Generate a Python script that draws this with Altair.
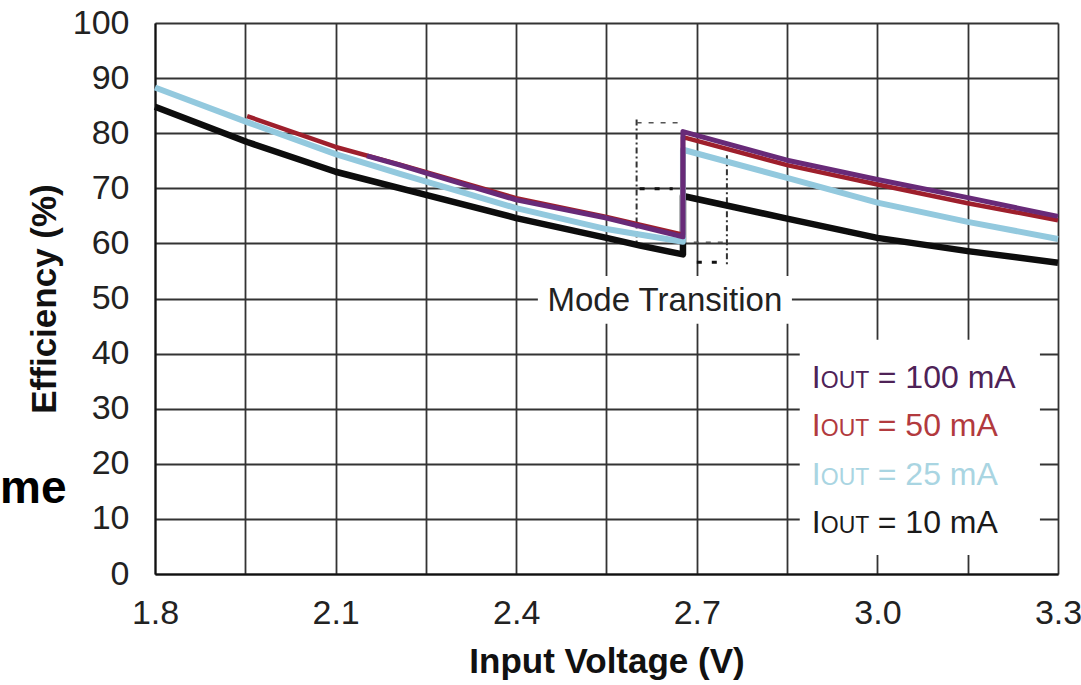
import altair as alt
import pandas as pd

# ---------------- data ----------------
x_ticks = [1.8, 1.95, 2.1, 2.25, 2.4, 2.55, 2.7, 2.85, 3.0, 3.15, 3.3]
y_ticks = [0, 10, 20, 30, 40, 50, 60, 70, 80, 90, 100]

i10_x = [1.8, 1.953, 2.1, 2.25, 2.40, 2.55, 2.606, 2.677, 2.677, 2.85, 3.0, 3.15, 3.3]
i10_y = [84.8, 78.4, 73.0, 68.8, 64.6, 61.0, 59.6, 58.0, 68.6, 64.5, 61.0, 58.6, 56.5]

i25_x = [1.8, 1.953, 2.1, 2.207, 2.40, 2.55, 2.677, 2.677, 2.85, 3.0, 3.15, 3.3]
i25_y = [88.3, 82.0, 76.2, 72.6, 66.4, 62.6, 60.3, 77.0, 71.9, 67.4, 63.9, 60.8]

i50_x = [1.953, 2.1, 2.207, 2.252, 2.40, 2.55, 2.677, 2.677, 2.85, 3.0, 3.15, 3.3]
i50_y = [83.1, 77.5, 74.3, 72.9, 68.2, 64.8, 61.6, 79.3, 74.2, 70.7, 67.3, 64.2]

i100_x = [2.152, 2.207, 2.252, 2.40, 2.55, 2.677, 2.677, 2.85, 3.0, 3.15, 3.3]
i100_y = [75.9, 74.2, 72.7, 67.9, 64.6, 61.2, 80.3, 75.1, 71.6, 68.3, 64.9]

# mode-transition dashed markers
trans_vx = [2.60, 2.75]
trans_vy1 = [82.5, 76.0]
trans_vy2 = [60.0, 55.7]
trans_hx1 = [2.60, 2.695]
trans_hx2 = [2.67, 2.75]
trans_hy = [81.9, 60.2]
blk_hx1 = [2.605, 2.70]
blk_hx2 = [2.66, 2.735]
blk_hy = [69.9, 56.6]

legend_labels = ["= 100 mA", "= 50 mA", "= 25 mA", "= 10 mA"]
legend_colors = ["#4e2257", "#b23a3e", "#a9d5e2", "#1a1a1a"]
legend_y = [33.8, 25.0, 16.2, 7.4]
legend_x = 2.891

mode_text = "Mode Transition"
mode_x = 2.647
mode_y = 47.7

# white boxes behind annotations (interrupt grid)
box_x1 = [2.436, 2.871]
box_x2 = [2.858, 3.270]
box_y1 = [45.4, 3.45]
box_y2 = [54.1, 42.5]

FONT = "Liberation Sans"


def series_df(xs, ys):
    return pd.DataFrame({"x": xs, "y": ys, "ord": list(range(len(xs)))})


xscale = alt.Scale(domain=[1.8, 3.3], nice=False, zero=False)
yscale = alt.Scale(domain=[0, 100], nice=False)

xaxis = alt.Axis(
    values=x_ticks,
    labelExpr="abs(round(datum.value*10) % 3) == 0 ? format(datum.value, '.1f') : ''",
    title="Input Voltage (V)",
    ticks=False,
    labelPadding=22,
    labelFontSize=34,
    labelColor="#222222",
    labelFont=FONT,
    titleFont=FONT,
    titleFontSize=35,
    titleFontWeight="bold",
    titleColor="#111111",
    titlePadding=14,
    grid=True,
    gridColor="#333333",
    gridWidth=1.8,
    domainColor="#111111",
    domainWidth=2,
    labelFlush=False,
)
yaxis = alt.Axis(
    values=y_ticks,
    title="Efficiency (%)",
    ticks=False,
    labelPadding=26,
    labelFontSize=34,
    labelColor="#222222",
    labelFont=FONT,
    titleFont=FONT,
    titleFontSize=35,
    titleFontWeight="bold",
    titleColor="#111111",
    titlePadding=10,
    grid=True,
    gridColor="#333333",
    gridWidth=1.8,
    domainColor="#111111",
    domainWidth=2,
    labelFlush=False,
)

X = alt.X("x:Q", scale=xscale, axis=xaxis)
Y = alt.Y("y:Q", scale=yscale, axis=yaxis)

boxes = alt.Chart(pd.DataFrame({"x": box_x1, "x2": box_x2, "y": box_y1, "y2": box_y2})).mark_rect(
    color="white", opacity=1
).encode(x=X, x2="x2:Q", y=Y, y2="y2:Q")


def line_layer(xs, ys, color, width):
    return alt.Chart(series_df(xs, ys)).mark_line(
        color=color, strokeWidth=width, strokeJoin="round", strokeCap="butt"
    ).encode(x=X, y=Y, order="ord:Q")


l10 = line_layer(i10_x, i10_y, "#0d0d0d", 6.5)
l25 = line_layer(i25_x, i25_y, "#93c9de", 6)
l50 = line_layer(i50_x, i50_y, "#9e1f2c", 4.5)
l100 = line_layer(i100_x, i100_y, "#682a78", 5)

vdash = alt.Chart(pd.DataFrame({"x": trans_vx, "y": trans_vy1, "y2": trans_vy2})).mark_rule(
    color="#333333", strokeWidth=2, strokeDash=[6, 3, 2, 3]
).encode(x=X, y=Y, y2="y2:Q")

hdot = alt.Chart(pd.DataFrame({"x": trans_hx1, "x2": trans_hx2, "y": trans_hy})).mark_rule(
    color="#555555", strokeWidth=1.5, strokeDash=[5, 7]
).encode(x=X, x2="x2:Q", y=Y)

bdash = alt.Chart(pd.DataFrame({"x": blk_hx1, "x2": blk_hx2, "y": blk_hy})).mark_rule(
    color="#111111", strokeWidth=3, strokeDash=[5, 10]
).encode(x=X, x2="x2:Q", y=Y)

mode_lbl = alt.Chart(pd.DataFrame({"x": [mode_x], "y": [mode_y], "t": [mode_text]})).mark_text(
    font=FONT, fontSize=33, color="#222222", align="center", baseline="alphabetic"
).encode(x=X, y=Y, text="t:N")

leg_df = pd.DataFrame({"x": [legend_x] * 4, "y": legend_y, "t": legend_labels, "c": legend_colors,
                       "i": ["I"] * 4, "o": ["OUT"] * 4})
leg_color = alt.Color("c:N", scale=None, legend=None)
leg_i = alt.Chart(leg_df).mark_text(font=FONT, fontSize=32, align="left", baseline="alphabetic").encode(
    x=X, y=Y, text="i:N", color=leg_color)
leg_o = alt.Chart(leg_df).mark_text(font=FONT, fontSize=23, align="left", baseline="alphabetic", dx=9).encode(
    x=X, y=Y, text="o:N", color=leg_color)
leg_t = alt.Chart(leg_df).mark_text(font=FONT, fontSize=32, align="left", baseline="alphabetic", dx=66).encode(
    x=X, y=Y, text="t:N", color=leg_color)

me_txt = alt.Chart(pd.DataFrame({"t": ["me"]})).mark_text(
    font=FONT, fontSize=46, fontWeight="bold", color="#000000", align="left", baseline="alphabetic"
).encode(x=alt.value(-155), y=alt.value(480), text="t:N")

chart = alt.layer(
    boxes, vdash, hdot, bdash, l10, l25, l50, l100, mode_lbl, leg_i, leg_o, leg_t, me_txt
).properties(
    width=903, height=551,
    autosize=alt.AutoSizeParams(type="none"),
    padding={"left": 155, "top": 23, "right": 23, "bottom": 111},
    background="white",
).configure_view(stroke=None)

chart.save("out.html", embed_options={"renderer": "svg", "actions": False})
